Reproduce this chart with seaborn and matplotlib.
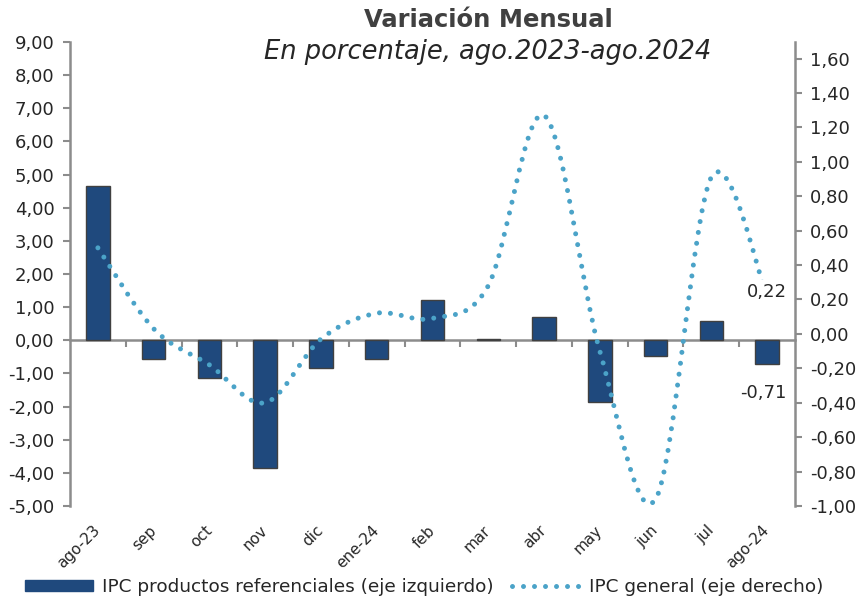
import numpy as np
import pandas as pd
import matplotlib
matplotlib.use("Agg")
import matplotlib.pyplot as plt
import seaborn as sns
from matplotlib.path import Path
from matplotlib.patches import PathPatch, Patch
from matplotlib.lines import Line2D
from matplotlib.ticker import FuncFormatter, FixedLocator

# ---- data ----
months = ["ago-23", "sep", "oct", "nov", "dic", "ene-24", "feb", "mar",
          "abr", "may", "jun", "jul", "ago-24"]
ipc_ref = [4.66, -0.55, -1.15, -3.84, -0.83, -0.55, 1.22, 0.03,
           0.70, -1.87, -0.48, 0.58, -0.71]
ipc_general = [0.50, 0.03, -0.18, -0.40, -0.03, 0.12, 0.09, 0.28,
               1.27, -0.10, -0.96, 0.91, 0.22]
left_ticks = list(range(-5, 10))
right_ticks = [round(-1.0 + 0.2 * i, 1) for i in range(14)]
title = "Variación Mensual"
subtitle = "En porcentaje, ago.2023-ago.2024"
bar_label = "IPC productos referenciales (eje izquierdo)"
line_label = "IPC general (eje derecho)"

# ---- style ----
sns.set_theme(style="white")
plt.rcParams["font.family"] = ["DejaVu Sans"]
BAR = "#1F497D"
EDGE = "#404040"
LINE = "#4BA3C8"
GREY = "#8C8C8C"
TXT = "#262626"
DOTS = (0, (0.001, 2.2))
LW = 3.6

fig = plt.figure(figsize=(8.63, 6.0), dpi=100)
ax = fig.add_axes([70 / 863, 94 / 600, 725 / 863, 464 / 600])

df = pd.DataFrame({"mes": months, "ref": ipc_ref})
sns.barplot(data=df, x="mes", y="ref", order=months, color=BAR, saturation=1,
            edgecolor=EDGE, linewidth=1.0, width=0.42, ax=ax)
ax.set_xlim(-0.5, len(months) - 0.5)
ax.set_ylim(-5, 9)
ax.set_xlabel("")
ax.set_ylabel("")
ax.yaxis.set_major_locator(FixedLocator(left_ticks))
fmt = FuncFormatter(lambda v, p: f"{v:.2f}".replace(".", ","))
ax.yaxis.set_major_formatter(fmt)
ax.tick_params(axis="y", direction="out", length=5, width=1.5, color=GREY,
               labelsize=13, labelcolor=TXT, pad=6, left=True)
for s in ["top", "right", "bottom"]:
    ax.spines[s].set_visible(False)
ax.spines["left"].set_color(GREY)
ax.spines["left"].set_linewidth(1.8)

ax.tick_params(axis="x", length=0, labelsize=11, labelcolor=TXT, pad=16)
plt.setp(ax.get_xticklabels(), rotation=45, ha="right", va="center",
         rotation_mode="anchor")

# zero axis line with ticks between categories
zero_frac = (0 - (-5)) / 14
sec = ax.secondary_xaxis(zero_frac)
sec.set_xticks([i + 0.5 for i in range(len(months) - 1)])
sec.set_xticklabels([])
sec.tick_params(axis="x", direction="out", length=5, width=1.5, color=GREY)
for s in sec.spines.values():
    s.set_color(GREY)
    s.set_linewidth(1.8)

# right axis with smoothed dotted line
ax2 = ax.twinx()
ax2.set_ylim(-1.0, 1.696)
ax2.yaxis.set_major_locator(FixedLocator(right_ticks))
ax2.yaxis.set_major_formatter(fmt)
ax2.tick_params(axis="y", direction="out", length=5, width=1.5, color=GREY,
                labelsize=13, labelcolor=TXT, pad=6, right=True)
for s in ["top", "left", "bottom"]:
    ax2.spines[s].set_visible(False)
ax2.spines["right"].set_color(GREY)
ax2.spines["right"].set_linewidth(1.8)
ax2.grid(False)
ax.grid(False)

xs = np.arange(len(months), dtype=float)
ys = np.array(ipc_general, dtype=float)
P = np.column_stack([xs, ys])
verts = [P[0]]
codes = [Path.MOVETO]
n = len(P)
for i in range(n - 1):
    p0 = P[i - 1] if i > 0 else P[i]
    p3 = P[i + 2] if i + 2 < n else P[i + 1]
    c1 = P[i] + (P[i + 1] - p0) / 6.0
    c2 = P[i + 1] - (p3 - P[i]) / 6.0
    verts += [c1, c2, P[i + 1]]
    codes += [Path.CURVE4] * 3
patch = PathPatch(Path(verts, codes), fill=False, edgecolor=LINE, linewidth=LW,
                  linestyle=DOTS, capstyle="round", zorder=3)
ax2.add_patch(patch)

# data labels
ax2.annotate(f"{ipc_general[-1]:.2f}".replace(".", ","), xy=(xs[-1], ys[-1]),
             xytext=(0, 3), textcoords="offset points", ha="center", va="center",
             fontsize=13, color=TXT, zorder=5,
             bbox=dict(boxstyle="square,pad=0.15", fc="white", ec="none"))
ax.annotate(f"{ipc_ref[-1]:.2f}".replace(".", ","), xy=(xs[-1], ipc_ref[-1]),
            xytext=(-3, -21), textcoords="offset points", ha="center", va="center",
            fontsize=13, color=TXT)

# titles
fig.text(488 / 863, 1 - 20 / 600, title, ha="center", va="center",
         fontsize=17.5, fontweight="bold", color="#404040")
fig.text(488 / 863, 1 - 52 / 600, subtitle, ha="center", va="center",
         fontsize=18.5, fontstyle="italic", color=TXT)

# legend
handles = [Patch(facecolor=BAR, edgecolor=BAR, label=bar_label),
           Line2D([0], [0], color=LINE, linewidth=LW, linestyle=DOTS,
                  dash_capstyle="round", label=line_label)]
fig.legend(handles=handles, loc="center", bbox_to_anchor=(424 / 863, 1 - 587 / 600),
           ncol=2, frameon=False, fontsize=13.3, handlelength=3.7, handleheight=0.55,
           columnspacing=1.0, handletextpad=0.45, labelcolor=TXT)

fig.savefig("out.png", dpi=100)
